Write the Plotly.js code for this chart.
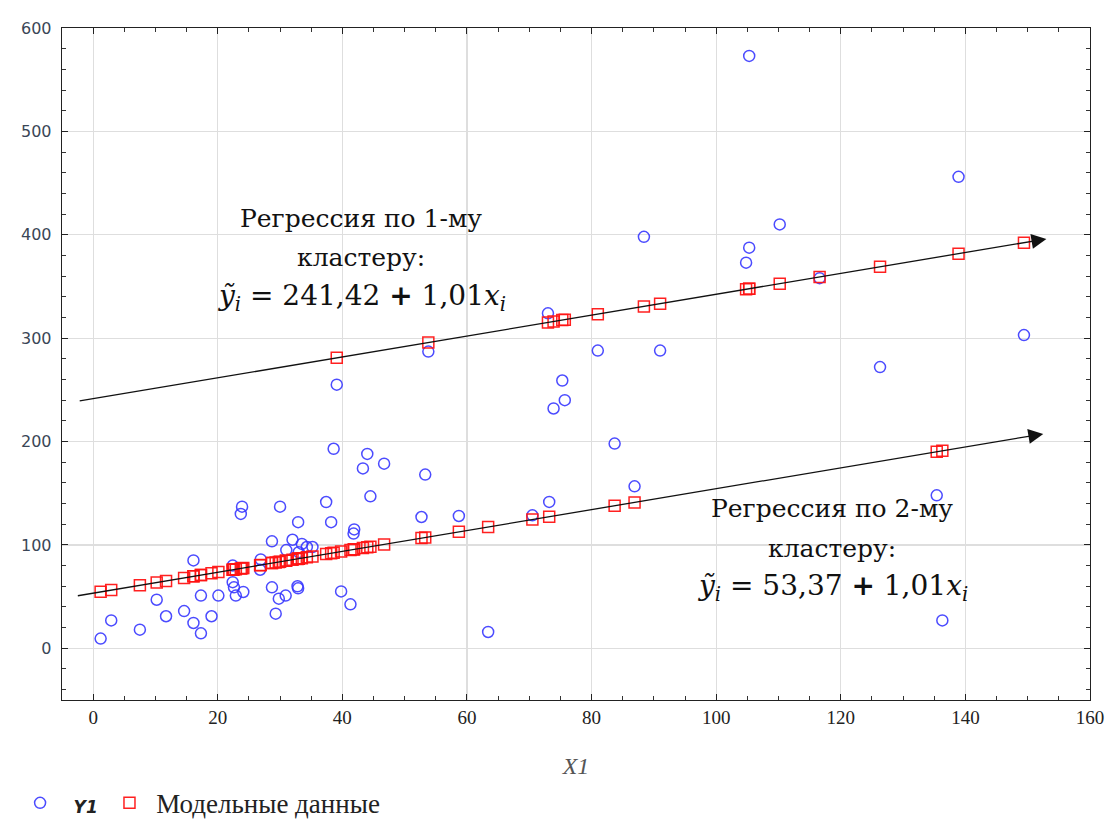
<!DOCTYPE html>
<html>
<head>
<meta charset="utf-8">
<script src="https://cdn.plot.ly/plotly-3.0.1.min.js"></script>
<style>html,body{margin:0;padding:0;background:#fff;}#chart{width:1116px;height:823px;}</style>
</head>
<body>
<div id="chart"></div>
<script>
// Cluster 1 (upper) observations
const x1Cluster1 = [39.1, 53.8, 73.0, 73.9, 75.3, 75.7, 81.0, 88.4, 91.0, 104.8, 105.3, 105.3, 110.2, 116.6, 126.3, 138.9, 149.4];
const y1Cluster1 = [255, 287, 324, 232, 259, 240, 288, 398, 288, 373, 387.5, 573, 410, 358, 272, 456, 303];
const modelCluster1 = [281.1, 295.8, 315.2, 316.1, 317.5, 317.9, 323.2, 330.7, 333.3, 347.3, 347.8, 347.8, 352.7, 359.2, 369.0, 381.7, 392.3];

// Cluster 2 (lower) observations
const x1Cluster2 = [1.2, 2.9, 7.5, 10.2, 11.7, 14.6, 16.1, 16.1, 17.3, 17.3, 19.0, 20.1, 22.4, 22.4, 22.6, 22.9, 23.9, 23.7, 24.1, 26.9, 26.8, 28.7, 28.7, 29.3, 29.8, 30.0, 30.9, 31.0, 32.0, 32.8, 32.9, 33.0, 32.9, 33.5, 34.3, 35.2, 37.4, 38.2, 38.6, 39.8, 41.3, 41.8, 41.9, 43.3, 44.0, 44.5, 46.7, 52.7, 53.3, 58.7, 63.4, 70.5, 73.2, 83.7, 86.9, 135.4, 136.3];
const y1Cluster2 = [9.4, 27, 18, 47, 31, 36, 85, 24.5, 51, 14.5, 31, 51, 80, 64, 59, 51, 137, 130, 54.5, 86, 76, 103.5, 59, 33.5, 48, 137, 51, 95, 105, 60, 122, 93, 58, 101, 98, 98, 141.5, 122, 193, 55, 42.5, 111, 115, 174, 188, 147, 178.6, 127, 168, 128, 15.8, 128.6, 141.6, 198, 156.7, 148, 27];
const modelCluster2 = [54.6, 56.3, 61.0, 63.7, 65.2, 68.1, 69.6, 69.6, 70.8, 70.8, 72.6, 73.7, 76.0, 76.0, 76.2, 76.5, 77.5, 77.3, 77.7, 80.5, 80.4, 82.4, 82.4, 83.0, 83.5, 83.7, 84.6, 84.7, 85.7, 86.5, 86.6, 86.7, 86.6, 87.2, 88.0, 88.9, 91.1, 92.0, 92.4, 93.6, 95.1, 95.6, 95.7, 97.1, 97.8, 98.3, 100.5, 106.6, 107.2, 112.7, 117.4, 124.6, 127.3, 137.9, 141.1, 190.1, 191.0];

// Regression arrows: [x start, x end], [y start, y end]
const arrow1X = [-2.4, 153.0];
const arrow1Y = [239.0, 396.0];
const arrow2X = [-2.7, 152.5];
const arrow2Y = [50.6, 207.4];

const xTickVals = [0, 20, 40, 60, 80, 100, 120, 140, 160];
const yTickVals = [0, 100, 200, 300, 400, 500, 600];

const labels1 = ['Регрессия по 1-му', 'кластеру:', '<i>ỹ<sub>i</sub></i> = 241,42 <b>+</b> 1,01<i>x<sub>i</sub></i>'];
const labels2 = ['Регрессия по 2-му', 'кластеру:', '<i>ỹ<sub>i</sub></i> = 53,37 <b>+</b> 1,01<i>x<sub>i</sub></i>'];
const labelPos1 = {x: 43, y: [416, 378, 339]};
const labelPos2 = {x: 118.6, y: [135, 97, 59]};

const xAll = x1Cluster1.concat(x1Cluster2);
const yAll = y1Cluster1.concat(y1Cluster2);
const modelAll = modelCluster1.concat(modelCluster2);

const NB = '\u00A0';
const traces = [
  {
    x: xAll, y: yAll, type: 'scatter', mode: 'markers',
    name: NB + NB + '<span style="font-family:\'DejaVu Sans\';font-weight:bold;font-style:italic;font-size:17px">Y1</span>' + NB,
    marker: {symbol: 'circle-open', size: 11, color: 'rgba(55,55,255,0.9)', line: {width: 1.5}}
  },
  {
    x: xAll, y: modelAll, type: 'scatter', mode: 'markers',
    name: NB + 'Модельные данные',
    marker: {symbol: 'square-open', size: 11, color: 'rgba(255,20,20,0.95)', line: {width: 1.5}}
  }
];

const annotations = [];
function addArrow(xs, ys) {
  annotations.push({
    x: xs[1], y: ys[1], ax: xs[0], ay: ys[0], xref: 'x', yref: 'y', axref: 'x', ayref: 'y',
    text: '', showarrow: true, arrowhead: 2, arrowsize: 2.3, arrowwidth: 1.3, arrowcolor: '#111', standoff: 0
  });
}
addArrow(arrow1X, arrow1Y);
addArrow(arrow2X, arrow2Y);
function addLabels(lines, pos) {
  lines.forEach((t, i) => {
    annotations.push({
      x: pos.x, y: pos.y[i], xref: 'x', yref: 'y', text: t, showarrow: false,
      xanchor: 'center', yanchor: 'middle',
      font: {family: 'DejaVu Serif', size: i === 2 ? 28 : 25, color: '#111'}
    });
  });
}
addLabels(labels1, labelPos1);
addLabels(labels2, labelPos2);

const layout = {
  width: 1116, height: 823,
  margin: {l: 62, r: 26, t: 28, b: 123, autoexpand: false},
  paper_bgcolor: '#fff', plot_bgcolor: '#fff',
  showlegend: true,
  legend: {
    orientation: 'h', x: 0.018, xref: 'container', y: 0.024, yref: 'container', yanchor: 'middle', xanchor: 'left',
    font: {family: 'Liberation Serif', size: 27, color: '#222'},
    itemwidth: 30, tracegroupgap: 0
  },
  xaxis: {
    range: [-5, 160], tickvals: xTickVals, ticktext: xTickVals.map(String),
    showgrid: true, gridcolor: '#dedede', gridwidth: 1.2, zeroline: false,
    showline: true, linecolor: '#222', linewidth: 1.3, mirror: 'allticks',
    ticks: 'inside', ticklen: 6, tickcolor: '#222',
    minor: {dtick: 5, tick0: 0, ticks: 'inside', ticklen: 4, tickcolor: '#333', showgrid: false},
    tickfont: {family: 'Liberation Serif', size: 19, color: '#222'},
    title: {text: '<i>X1</i>', font: {family: 'Liberation Serif', size: 24, color: '#555'}, standoff: 34}
  },
  yaxis: {
    range: [-50, 600], tickvals: yTickVals, ticktext: yTickVals.map(String),
    showgrid: true, gridcolor: '#dedede', gridwidth: 1.2, zeroline: false,
    showline: true, linecolor: '#222', linewidth: 1.3, mirror: 'allticks',
    ticks: 'inside', ticklen: 6, tickcolor: '#222',
    minor: {dtick: 20, tick0: 0, ticks: 'inside', ticklen: 4, tickcolor: '#333', showgrid: false},
    tickfont: {family: 'DejaVu Sans', size: 16, color: '#3a4656'},
    ticklabelstandoff: 6
  },
  annotations: annotations
};

Plotly.newPlot('chart', traces, layout, {displayModeBar: false, staticPlot: true});
</script>
</body>
</html>
